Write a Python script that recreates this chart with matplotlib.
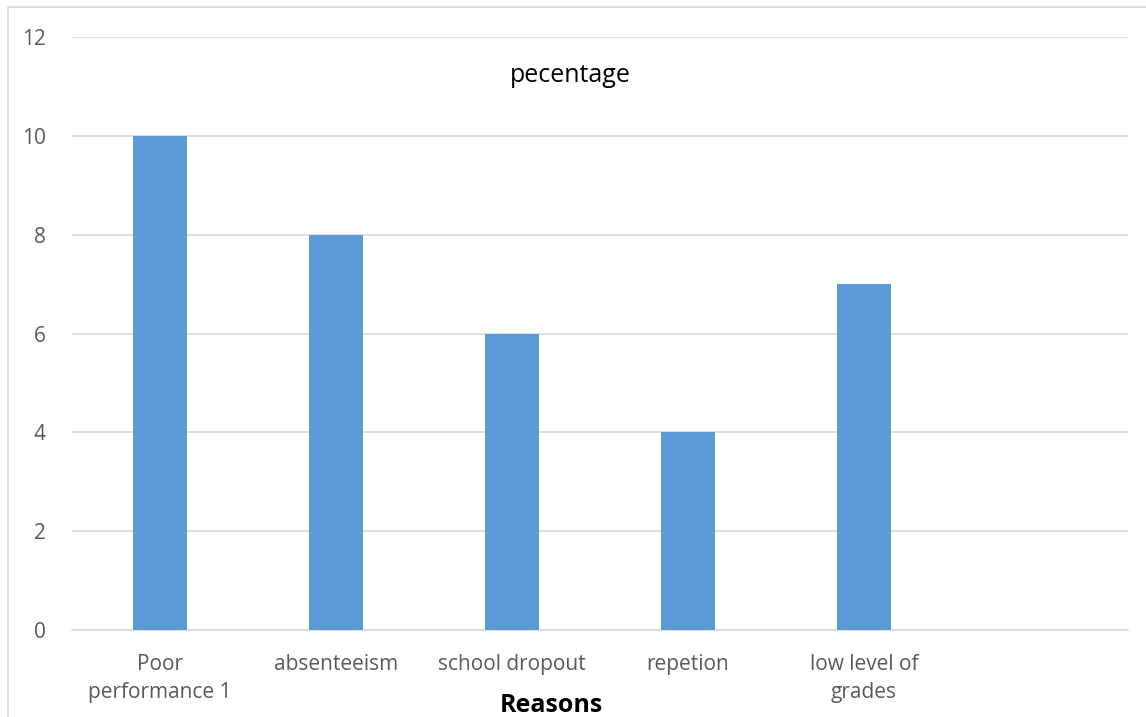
import matplotlib.pyplot as plt
from matplotlib.patches import Rectangle

reasons = ['Poor\nperformance 1', 'absenteeism', 'school dropout', 'repetion', 'low level of\ngrades', '']
values = [10, 8, 6, 4, 7, 0]

plt.rcParams['font.family'] = ['Open Sans', 'DejaVu Sans']

fig = plt.figure(figsize=(11.46, 7.17), dpi=100)
# chart area border
fig.patches.append(Rectangle((8 / 1146, -0.01), 1.01, (717 - 7) / 717 + 0.01,
                             transform=fig.transFigure, fill=False,
                             edgecolor='#d9d9d9', linewidth=1.2))

ax = fig.add_axes([72 / 1146, 87 / 717, 1056 / 1146, 593 / 717])
x = list(range(len(reasons)))
ax.bar(x, values, width=0.31, color='#5b9bd5', zorder=3)

ax.set_xlim(-0.5, len(reasons) - 0.5)
ax.set_ylim(0, 12)
ax.set_yticks(range(0, 13, 2))
ax.set_xticks(x)
ax.set_xticklabels(reasons, fontsize=15, color='#595959', linespacing=1.45)
ax.tick_params(axis='y', labelsize=15, labelcolor='#595959', length=0, pad=19)
ax.tick_params(axis='x', length=0, pad=17)
ax.grid(axis='y', color='#d9d9d9', linewidth=1.2, zorder=0)
for s in ['top', 'right', 'left']:
    ax.spines[s].set_visible(False)
ax.spines['bottom'].set_color('#d9d9d9')
ax.spines['bottom'].set_linewidth(1.2)

fig.text(570 / 1146, 1 - 75 / 717, 'pecentage', fontsize=18, ha='center', va='center', color='black')
fig.text(551 / 1146, 1 - 705 / 717, 'Reasons', fontsize=18, fontweight='bold', ha='center', va='center', color='black')

fig.savefig('out.png', dpi=100)
